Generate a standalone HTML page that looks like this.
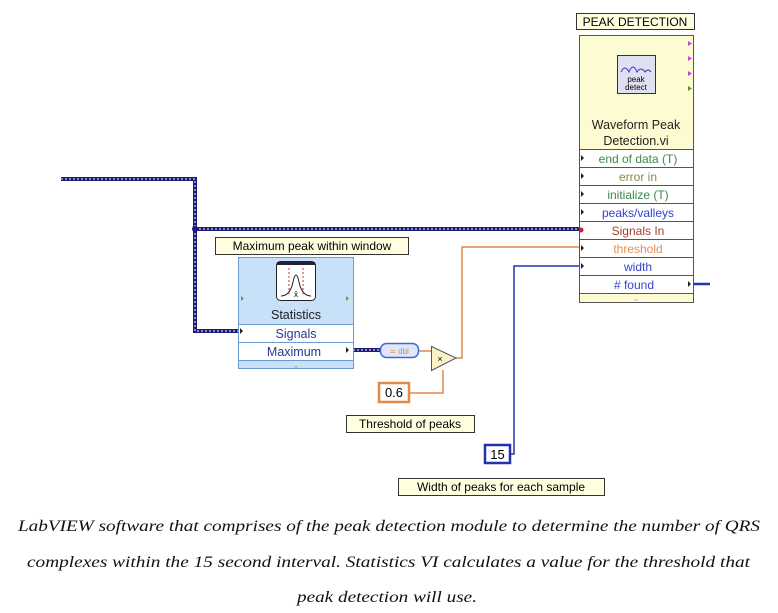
<!DOCTYPE html>
<html><head><meta charset="utf-8"><style>
html,body{margin:0;padding:0;background:#fff}
svg{display:block}
text{font-family:"Liberation Sans",sans-serif}
</style></head><body>
<svg width="778" height="613" viewBox="0 0 778 613" xmlns="http://www.w3.org/2000/svg">
<!-- blue dashed wires -->
<g fill="none">
<path d="M61 179 H195 V331 H238 M195 229 H579" stroke="#1a1a7a" stroke-width="4"/>
<path d="M61 179 H195 V331 H238 M195 229 H579" stroke="#fff" stroke-width="1" stroke-dasharray="2 2"/>
<path d="M353 350 H381" stroke="#1a1a7a" stroke-width="4"/>
<path d="M353 350 H381" stroke="#fff" stroke-width="1" stroke-dasharray="2 2"/>
<path d="M418 351 H431 M456 358 H462 V247 H579 M409 393 H443 V370" stroke="#e08a4a" stroke-width="1.5"/>
<path d="M510 454 H514 V266 H579" stroke="#2233aa" stroke-width="1.5"/>
<path d="M693 284 H710" stroke="#2233aa" stroke-width="2.5"/>
</g>
<circle cx="195" cy="229" r="3" fill="#1a1a7a"/>
<!-- peak detection -->
<rect x="576.5" y="13.5" width="118" height="16" fill="#ffffe0" stroke="#333"/>
<text x="635" y="26" font-size="12" text-anchor="middle" fill="#000">PEAK DETECTION</text>
<rect x="579.5" y="35.5" width="114" height="267" fill="#fdfbd2" stroke="#555"/>
<rect x="617.5" y="55.5" width="38" height="38" fill="#dfe0f0" stroke="#333"/>
<path d="M621 72 q4 -8 8 0 q4 -10 8 0 q4 -6 8 0 q3 -4 6 0" fill="none" stroke="#33c" stroke-width="1"/>
<text x="636" y="82" font-size="8" text-anchor="middle">peak</text>
<text x="636" y="90" font-size="8" text-anchor="middle">detect</text>
<g fill="#d040d0"><path d="M688 41 l4 2.5 l-4 2.5z"/><path d="M688 56 l4 2.5 l-4 2.5z"/><path d="M688 71 l4 2.5 l-4 2.5z"/></g>
<path d="M688 86 l4 2.5 l-4 2.5z" fill="#6a8a30"/>
<text x="636" y="129" font-size="12.5" text-anchor="middle" fill="#222">Waveform Peak</text>
<text x="636" y="145" font-size="12.5" text-anchor="middle" fill="#222">Detection.vi</text>
<g stroke="#555" fill="#fff">
<rect x="579.5" y="149.5" width="114" height="18"/><rect x="579.5" y="167.5" width="114" height="18"/>
<rect x="579.5" y="185.5" width="114" height="18"/><rect x="579.5" y="203.5" width="114" height="18"/>
<rect x="579.5" y="221.5" width="114" height="18"/><rect x="579.5" y="239.5" width="114" height="18"/>
<rect x="579.5" y="257.5" width="114" height="18"/><rect x="579.5" y="275.5" width="114" height="18"/>
</g>
<g font-size="12" text-anchor="middle">
<text x="638" y="163" fill="#3a8a4a">end of data (T)</text>
<text x="638" y="181" fill="#8a8a40">error in</text>
<text x="638" y="199" fill="#3a8a4a">initialize (T)</text>
<text x="638" y="217" fill="#3344cc">peaks/valleys</text>
<text x="638" y="235" fill="#a04030">Signals In</text>
<text x="638" y="253" fill="#e89050">threshold</text>
<text x="638" y="271" fill="#3344cc">width</text>
<text x="634" y="289" fill="#3344cc"># found</text>
</g>
<g fill="#222"><path d="M581 155 l3 3 l-3 3z"/><path d="M581 173 l3 3 l-3 3z"/><path d="M581 191 l3 3 l-3 3z"/><path d="M581 209 l3 3 l-3 3z"/><path d="M581 245 l3 3 l-3 3z"/><path d="M581 263 l3 3 l-3 3z"/><path d="M688 281 l3 3 l-3 3z"/></g>
<circle cx="581" cy="230" r="2.5" fill="#c02030"/>
<text x="636" y="301" font-size="8" text-anchor="middle" fill="#aaa">⌄</text>
<!-- statistics -->
<rect x="215.5" y="237.5" width="193" height="17" fill="#ffffe0" stroke="#333"/>
<text x="312" y="250" font-size="12" text-anchor="middle" fill="#000">Maximum peak within window</text>
<rect x="238.5" y="257.5" width="115" height="111" fill="#c8e0f8" stroke="#6a9ad0"/>
<rect x="276.5" y="261.5" width="39" height="39" rx="4" fill="#fff" stroke="#222"/>
<rect x="277" y="262" width="38" height="3" fill="#223"/>
<path d="M281 296 q9 0 12 -14 q3 -14 6 0 q3 14 12 14" fill="none" stroke="#222"/>
<path d="M289 268 V296 M303 268 V296" stroke="#c33" stroke-dasharray="2 2"/>
<text x="296" y="297" font-size="8" text-anchor="middle">x̄</text>
<path d="M241 296 l3 2.5 l-3 2.5z M346 296 l3 2.5 l-3 2.5z" fill="#6a9a50"/>
<text x="296" y="319" font-size="12.5" text-anchor="middle" fill="#222">Statistics</text>
<rect x="238.5" y="324.5" width="115" height="18" fill="#fff" stroke="#6a9ad0"/>
<rect x="238.5" y="342.5" width="115" height="18" fill="#fff" stroke="#6a9ad0"/>
<text x="296" y="338" font-size="12.5" text-anchor="middle" fill="#223a90">Signals</text>
<text x="294" y="356" font-size="12.5" text-anchor="middle" fill="#223a90">Maximum</text>
<path d="M240 328 l3 3 l-3 3z M346 347 l3 3 l-3 3z" fill="#222"/>
<text x="296" y="368" font-size="8" text-anchor="middle" fill="#8aa">⌄</text>
<!-- conversion -->
<rect x="380.5" y="343.5" width="38" height="14" rx="6" fill="#dde8ff" stroke="#4466cc" stroke-width="1.5"/>
<text x="399" y="354" font-size="8" text-anchor="middle" fill="#e08a30">≍ dbl</text>
<path d="M431.5 346.5 L456 358 L431.5 370.5 Z" fill="#fbf3c8" stroke="#556"/>
<text x="440" y="362" font-size="9" text-anchor="middle">×</text>
<rect x="379" y="383" width="30" height="19" fill="#fff" stroke="#e08a4a" stroke-width="2.5"/>
<text x="394" y="397" font-size="13" text-anchor="middle">0.6</text>
<rect x="346.5" y="415.5" width="128" height="17" fill="#ffffe0" stroke="#333"/>
<text x="410" y="428" font-size="12" text-anchor="middle">Threshold of peaks</text>
<rect x="485" y="445" width="25" height="18" fill="#fff" stroke="#2233aa" stroke-width="2.5"/>
<text x="497.5" y="459" font-size="13" text-anchor="middle">15</text>
<rect x="398.5" y="478.5" width="206" height="17" fill="#ffffe0" stroke="#333"/>
<text x="501" y="491" font-size="12" text-anchor="middle">Width of peaks for each sample</text>
<!-- caption -->
<g font-family="Liberation Serif, serif" font-style="italic" font-size="16" fill="#111">
<text x="18" y="531" textLength="742" lengthAdjust="spacingAndGlyphs" style="font-family:'Liberation Serif',serif">LabVIEW software that comprises of the peak detection module to determine the number of QRS</text>
<text x="27" y="567" textLength="723" lengthAdjust="spacingAndGlyphs" style="font-family:'Liberation Serif',serif">complexes within the 15 second interval. Statistics VI calculates a value for the threshold that</text>
<text x="297" y="602" textLength="180" lengthAdjust="spacingAndGlyphs" style="font-family:'Liberation Serif',serif">peak detection will use.</text>
</g>
</svg>
</body></html>
